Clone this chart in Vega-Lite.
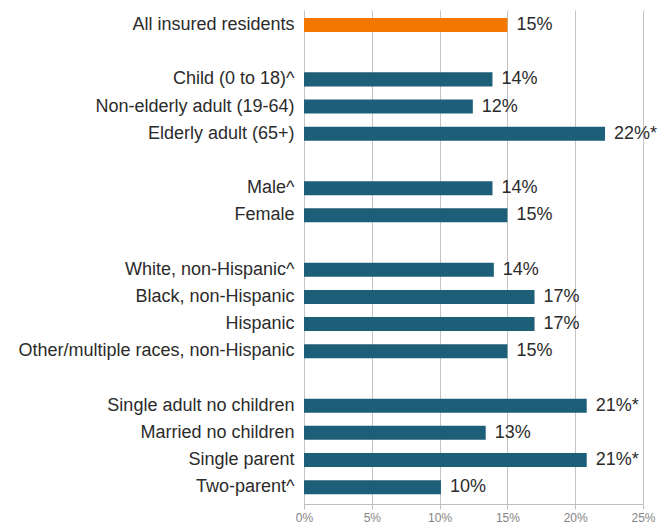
{
  "$schema": "https://vega.github.io/schema/vega-lite/v6.json",
  "width": 339,
  "height": 494,
  "autosize": {"type": "none"},
  "padding": {"left": 304, "top": 10, "right": 27, "bottom": 23},
  "background": "white",
  "data": {
    "values": [
      {"group": "All insured residents", "value": 15.0, "label": "15%", "kind": "all"},
      {"group": "Child (0 to 18)^", "value": 13.9, "label": "14%", "kind": "sub"},
      {"group": "Non-elderly adult (19-64)", "value": 12.45, "label": "12%", "kind": "sub"},
      {"group": "Elderly adult (65+)", "value": 22.2, "label": "22%*", "kind": "sub"},
      {"group": "Male^", "value": 13.9, "label": "14%", "kind": "sub"},
      {"group": "Female", "value": 15.0, "label": "15%", "kind": "sub"},
      {"group": "White, non-Hispanic^", "value": 14.0, "label": "14%", "kind": "sub"},
      {"group": "Black, non-Hispanic", "value": 17.0, "label": "17%", "kind": "sub"},
      {"group": "Hispanic", "value": 17.0, "label": "17%", "kind": "sub"},
      {"group": "Other/multiple races, non-Hispanic", "value": 15.0, "label": "15%", "kind": "sub"},
      {"group": "Single adult no children", "value": 20.85, "label": "21%*", "kind": "sub"},
      {"group": "Married no children", "value": 13.4, "label": "13%", "kind": "sub"},
      {"group": "Single parent", "value": 20.85, "label": "21%*", "kind": "sub"},
      {"group": "Two-parent^", "value": 10.1, "label": "10%", "kind": "sub"}
    ]
  },
  "encoding": {
    "y": {
      "field": "group",
      "type": "nominal",
      "scale": {
        "domain": ["All insured residents", " ", "Child (0 to 18)^", "Non-elderly adult (19-64)", "Elderly adult (65+)", "  ", "Male^", "Female", "   ", "White, non-Hispanic^", "Black, non-Hispanic", "Hispanic", "Other/multiple races, non-Hispanic", "    ", "Single adult no children", "Married no children", "Single parent", "Two-parent^"],
        "paddingInner": 0.485,
        "paddingOuter": 0.3266,
        "align": 0.45
      },
      "axis": {
        "title": null,
        "domain": false,
        "ticks": false,
        "grid": false,
        "labelFont": "Liberation Sans",
        "labelFontSize": 18,
        "labelColor": "#2b2b2b",
        "labelPadding": 10,
        "labelLimit": 320
      }
    }
  },
  "layer": [
    {
      "mark": {"type": "bar"},
      "encoding": {
        "x": {
          "field": "value",
          "type": "quantitative",
          "scale": {"domain": [0, 25], "nice": false},
          "axis": {
            "title": null,
            "values": [0, 5, 10, 15, 20, 25],
            "labelExpr": "datum.value + '%'",
            "labelFlush": false,
            "grid": true,
            "gridColor": "#c4c4c4",
            "gridWidth": 1,
            "domainColor": "#bdbdbd",
            "tickColor": "#bdbdbd",
            "tickSize": 5,
            "labelFont": "Liberation Sans",
            "labelFontSize": 12,
            "labelColor": "#858585",
            "labelPadding": 3
          }
        },
        "color": {
          "field": "kind",
          "type": "nominal",
          "scale": {"domain": ["all", "sub"], "range": ["#F47800", "#1D5F78"]},
          "legend": null
        }
      }
    },
    {
      "mark": {"type": "text", "align": "left", "baseline": "middle", "dx": 9, "dy": 0, "font": "Liberation Sans", "fontSize": 18, "color": "#2b2b2b"},
      "encoding": {
        "x": {"field": "value", "type": "quantitative"},
        "text": {"field": "label", "type": "nominal"}
      }
    }
  ],
  "config": {"view": {"stroke": null}}
}
